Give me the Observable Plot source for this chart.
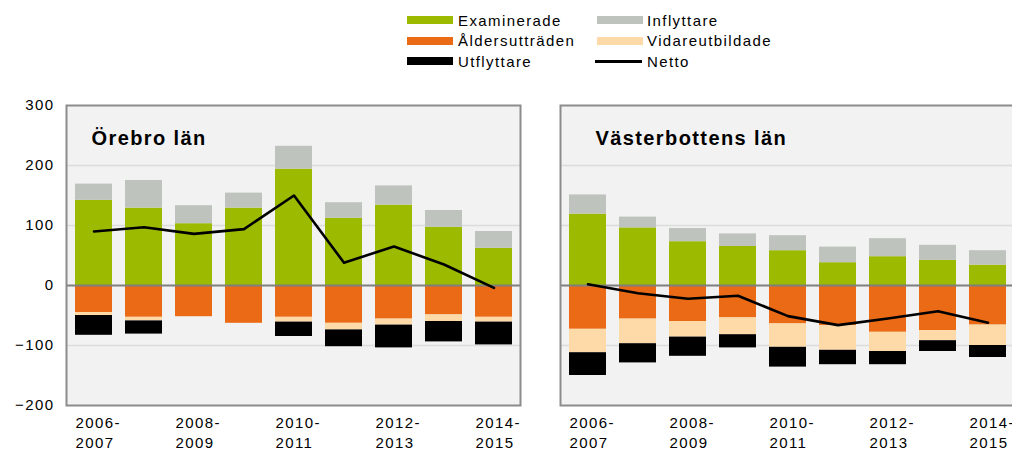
<!DOCTYPE html>
<html><head><meta charset="utf-8">
<script src="https://cdn.jsdelivr.net/npm/d3@7"></script>
<script src="https://cdn.jsdelivr.net/npm/@observablehq/plot@0.6"></script>
<style>
body{margin:0;overflow:hidden;background:#fff;font-family:Arial,"Liberation Sans",sans-serif;}
#root{position:relative;width:1012px;height:452px;overflow:hidden;}
.pan{position:absolute;top:90px;}
.pan svg{max-width:none !important;overflow:visible;}
.sw{position:absolute;height:8px;width:46px;}
.lt{position:absolute;font-size:15px;line-height:20px;letter-spacing:1.4px;color:#000;white-space:nowrap;}
</style></head><body><div id="root"></div>
<script>
const periods = ["2006-2007","2007-2008","2008-2009","2009-2010","2010-2011","2011-2012","2012-2013","2013-2014","2014-2015"];
const tickPeriods = ["2006-2007","2008-2009","2010-2011","2012-2013","2014-2015"];
const yTicks = [-200,-100,0,100,200,300];
const series = ["Examinerade","Inflyttare","Åldersutträden","Vidareutbildade","Utflyttare"];
const colors = ["#9bba00","#bec3be","#ea6a15","#fddaa8","#000000"];

// Örebro län
const orebroExaminerade = [142,129,103,129,194,112,134,97,62];
const orebroInflyttare = [27,46,30,25,38,26,32,28,28];
const orebroAlder = [-45,-53,-52,-63,-53,-63,-56,-49,-53];
const orebroVidare = [-5,-6,0,0,-8,-11,-10,-11,-8];
const orebroUtflyttare = [-33,-22,0,0,-24,-28,-38,-34,-38];
const orebroNetto = [90,97,86,94,150,38,65,35,-4];

// Västerbottens län
const vbExaminerade = [119,96,73,65,58,38,48,42,34];
const vbInflyttare = [32,18,22,21,25,26,30,25,24];
const vbAlder = [-73,-56,-60,-54,-64,-67,-78,-75,-66];
const vbVidare = [-39,-41,-26,-28,-39,-41,-32,-17,-34];
const vbUtflyttare = [-38,-32,-32,-22,-33,-24,-22,-18,-20];
const vbNetto = [2,-13,-22,-17,-51,-66,-55,-43,-62];

function rows(arrs){
  return periods.flatMap((p,i)=>series.map((s,j)=>({period:p, serie:s, value:arrs[j][i]})));
}
function netRows(arr){ return periods.map((p,i)=>({period:p, value:arr[i]})); }

function panel(title, arrs, netto, opts){
  return Plot.plot({
    width: opts.width, height: 362,
    marginLeft: opts.marginLeft, marginRight: 10, marginTop: 15, marginBottom: 47,
    x: {domain: periods, paddingInner: 0.27, paddingOuter: 0.135, axis: null, label: null},
    y: {domain: [-200,300], axis: null, label: null},
    color: {domain: series, range: colors},
    style: {fontFamily: "Arial, 'Liberation Sans', sans-serif", fontSize: "15px", letterSpacing: "1.4px", color: "#000", background: "transparent", overflow: "visible"},
    marks: [
      Plot.frame({fill: "#f2f2f2"}),
      Plot.gridY([-100,100,200], {stroke: "#dcdcdc", strokeOpacity: 1, strokeWidth: 1.5}),
      Plot.barY(rows(arrs), {x: "period", y: "value", fill: "serie"}),
      Plot.ruleY([0], {stroke: "#7f7f7f", strokeWidth: 2}),
      Plot.lineY(netRows(netto), {x: "period", y: "value", stroke: "#000", strokeWidth: 2.6}),
      Plot.frame({stroke: "#8c8c8c", strokeWidth: 2}),
      opts.showY ? Plot.axisY({ticks: yTicks, tickSize: 0, tickPadding: 12, label: null}) : null,
      Plot.axisX({ticks: tickPeriods, tickSize: 0, tickPadding: 8, label: null, tickFormat: d => d.replace("-", "-\n"), textAnchor: "start", dx: -18.5, lineHeight: 1.35}),
      Plot.text([title], {text: d => d, frameAnchor: "top-left", dx: opts.titleDx, dy: 25, fontWeight: "bold", fontSize: 20, textAnchor: "start", lineAnchor: "top"})
    ]
  });
}

const root = document.getElementById("root");
// legend
const legendItems = [
  {label:"Examinerade", color:colors[0], sx:407, tx:458, row:0},
  {label:"Inflyttare", color:colors[1], sx:597, tx:647, row:0},
  {label:"Åldersutträden", color:colors[2], sx:407, tx:458, row:1},
  {label:"Vidareutbildade", color:colors[3], sx:597, tx:647, row:1},
  {label:"Utflyttare", color:colors[4], sx:407, tx:458, row:2},
  {label:"Netto", color:"#000", sx:595, tx:647, row:2, line:true}
];
const rowTop = [10.8, 31.3, 51.8];
for (const it of legendItems){
  const sw = document.createElement("div");
  sw.className = "sw";
  sw.style.left = it.sx + "px";
  sw.style.background = it.color;
  if (it.line){ sw.style.height = "3px"; sw.style.width = "47px"; sw.style.top = (rowTop[it.row] + 8) + "px"; }
  else sw.style.top = (rowTop[it.row] + 5.5) + "px";
  root.appendChild(sw);
  const t = document.createElement("div");
  t.className = "lt";
  t.style.left = it.tx + "px";
  t.style.top = rowTop[it.row] + "px";
  t.textContent = it.label;
  root.appendChild(t);
}

const p1 = document.createElement("div"); p1.className = "pan"; p1.style.left = "0px"; p1.style.width = "530px";
p1.appendChild(panel("Örebro län", [orebroExaminerade, orebroInflyttare, orebroAlder, orebroVidare, orebroUtflyttare], orebroNetto, {width: 530, marginLeft: 66, showY: true, titleDx: 25}));
root.appendChild(p1);
const p2 = document.createElement("div"); p2.className = "pan"; p2.style.left = "540px"; p2.style.width = "484px";
p2.appendChild(panel("Västerbottens län", [vbExaminerade, vbInflyttare, vbAlder, vbVidare, vbUtflyttare], vbNetto, {width: 484, marginLeft: 20, showY: false, titleDx: 35}));
root.appendChild(p2);
</script>
</body></html>
